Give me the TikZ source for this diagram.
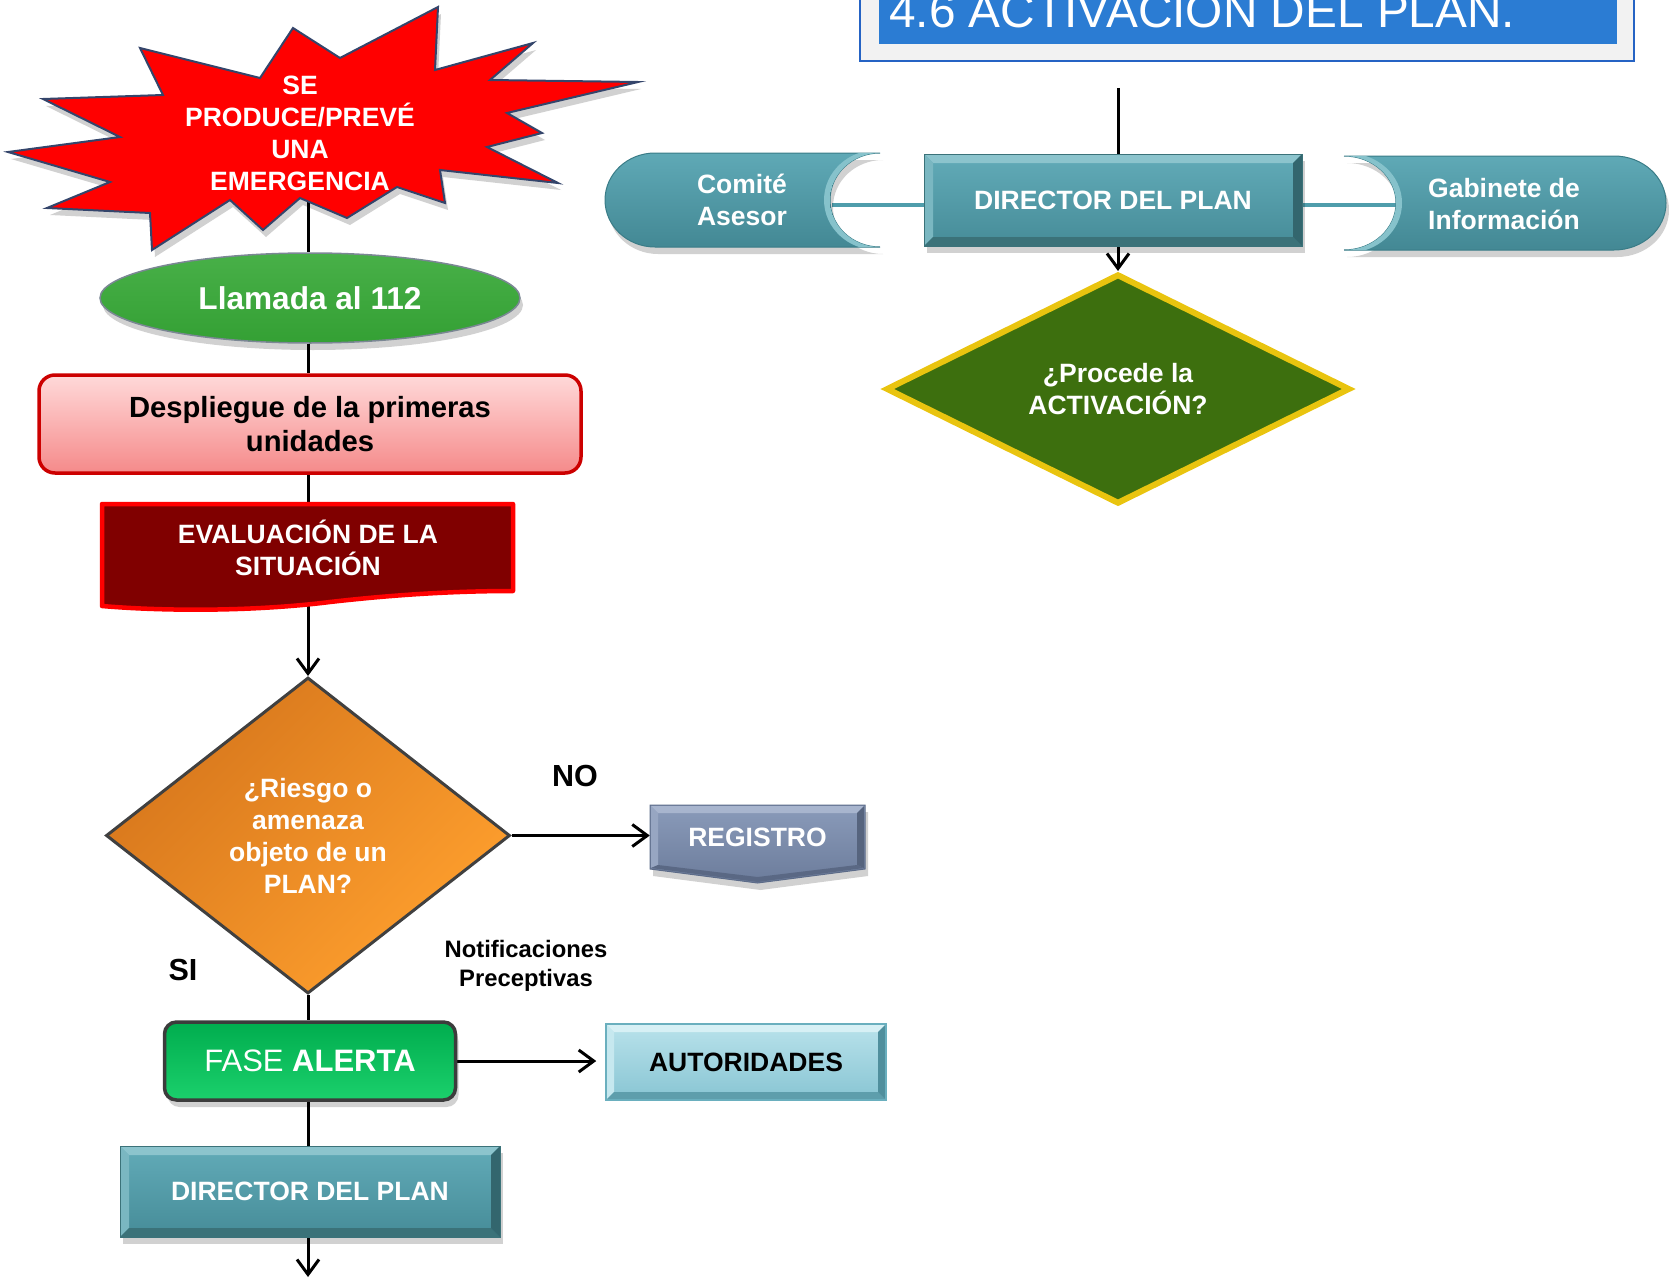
\documentclass[tikz,border=0pt]{standalone}
\usepackage{fontspec}
\setmainfont{Liberation Sans}
\usetikzlibrary{shapes.geometric,arrows.meta,shadows}
\newcommand{\myfs}[2]{\fontsize{#1pt}{#2pt}\selectfont}
\pgfdeclarelayer{bg}
\pgfsetlayers{bg,main}
\definecolor{tgray}{HTML}{F2F2F2}
\definecolor{tborder}{HTML}{2563C4}
\definecolor{tblue}{HTML}{2B7CD3}
\definecolor{tealF1}{HTML}{62ABB8}
\definecolor{tealF2}{HTML}{468C98}
\definecolor{tealT}{HTML}{8CC4CD}
\definecolor{tealL}{HTML}{7AB7C1}
\definecolor{tealB}{HTML}{3B7279}
\definecolor{tealR}{HTML}{33666E}
\definecolor{tealLine}{HTML}{4F9DAB}
\definecolor{tealHi}{HTML}{86C2CB}
\definecolor{comT}{HTML}{5FA9B6}
\definecolor{comB}{HTML}{438894}
\definecolor{comD}{HTML}{3A7C87}
\definecolor{autF1}{HTML}{B9E2EB}
\definecolor{autF2}{HTML}{88C5D3}
\definecolor{autT}{HTML}{D7F0F5}
\definecolor{autL}{HTML}{C6E8EF}
\definecolor{autB}{HTML}{5E9EAC}
\definecolor{autR}{HTML}{508F9D}
\definecolor{autD}{HTML}{6AAFBE}
\definecolor{regT}{HTML}{8A9BBA}
\definecolor{regB}{HTML}{6C7C9B}
\definecolor{regD}{HTML}{5C6B88}
\definecolor{regHi}{HTML}{A8B5CE}
\definecolor{regL}{HTML}{97A6C2}
\definecolor{regR}{HTML}{56647E}
\definecolor{regBot}{HTML}{5A6884}
\definecolor{starD}{HTML}{34456B}
\definecolor{llamT}{HTML}{48B048}
\definecolor{llamB}{HTML}{34A034}
\definecolor{llamD}{HTML}{7B8794}
\definecolor{despT}{HTML}{FFD9D9}
\definecolor{despB}{HTML}{F58A8A}
\definecolor{despD}{HTML}{CC0000}
\definecolor{evalF}{HTML}{800000}
\definecolor{evalD}{HTML}{FF0000}
\definecolor{orT}{HTML}{D6761C}
\definecolor{orB}{HTML}{FFA02E}
\definecolor{orD}{HTML}{404040}
\definecolor{faseT}{HTML}{00AD4E}
\definecolor{faseM}{HTML}{00B050}
\definecolor{faseB}{HTML}{1BD06C}
\definecolor{faseD}{HTML}{3C3C3C}
\definecolor{greenF}{HTML}{3D6F0E}
\definecolor{gold}{HTML}{E9C40F}
\begin{document}
\begin{tikzpicture}[x=1pt,y=-1pt,
  conn/.style={line width=3pt, black},
  arr/.style={conn, -{Straight Barb[length=15pt,width=22pt]}},
  tealline/.style={line width=4pt, tealLine},
  wtxt/.style={font=\bfseries\myfs{26.5}{32}, text=white, align=center, inner sep=0pt},
  btxt/.style={font=\bfseries\myfs{26.5}{32}, text=black, align=center, inner sep=0pt},
  lbl/.style={font=\bfseries\myfs{30.5}{36}, text=black, inner sep=0pt},
  shd/.style={drop shadow={shadow xshift=3pt, shadow yshift=-7pt, opacity=0.18, fill=black}},
  bevel/.style n args={5}{path picture={
    \path (path picture bounding box.north west) coordinate (pNW)
          (path picture bounding box.north east) coordinate (pNE)
          (path picture bounding box.south west) coordinate (pSW)
          (path picture bounding box.south east) coordinate (pSE);
    \fill[#2] (pNW) -- (pNE) -- ([xshift=-#1,yshift=-#1]pNE) -- ([xshift=#1,yshift=-#1]pNW) -- cycle;
    \fill[#3] (pNW) -- ([xshift=#1,yshift=-#1]pNW) -- ([xshift=#1,yshift=#1]pSW) -- (pSW) -- cycle;
    \fill[#4] (pSW) -- (pSE) -- ([xshift=-#1,yshift=#1]pSE) -- ([xshift=#1,yshift=#1]pSW) -- cycle;
    \fill[#5] (pNE) -- (pSE) -- ([xshift=-#1,yshift=#1]pSE) -- ([xshift=-#1,yshift=-#1]pNE) -- cycle;
  }}
]
\useasboundingbox (0,0) rectangle (1669,1279);
\clip (0,0) rectangle (1669,1279);

% ---------- title ----------
\fill[tgray] (860,-30) rectangle (1634,61);
\draw[tborder, line width=2.5pt] (860,-30) rectangle (1634,61);
\fill[tblue] (879,-30) rectangle (1617,44);
\node[anchor=base west, inner sep=0pt, text=white, font=\myfs{47.8}{56}] (title) at (889,28) {4.6 ACTIVACIÓN DEL PLAN.};

% ---------- top right group ----------
\node[rectangle, minimum width=378pt, minimum height=92pt, top color=tealF1, bottom color=tealF2,
      draw=tealB, line width=0.8pt, shd, bevel={9pt}{tealT}{tealL}{tealB}{tealR}, wtxt] (dir1) at (1113,200) {DIRECTOR DEL PLAN};

% Comite Asesor (stored data shape)
\path[shd, top color=comT, bottom color=comB, draw=comD, line width=1pt]
  (655,153) -- (880,153) .. controls (852.4,153) and (830,174) .. (830,200)
  .. controls (830,226) and (852.4,247) .. (880,247) -- (655,247)
  .. controls (627.4,247) and (605,226) .. (605,200)
  .. controls (605,174) and (627.4,153) .. (655,153) -- cycle;
\begin{scope}
\clip (655,153) -- (880,153) .. controls (852.4,153) and (830,174) .. (830,200)
  .. controls (830,226) and (852.4,247) .. (880,247) -- (655,247)
  .. controls (627.4,247) and (605,226) .. (605,200)
  .. controls (605,174) and (627.4,153) .. (655,153) -- cycle;
\draw[tealHi, line width=6pt] (877,153) .. controls (849.4,153) and (827,174) .. (827,200)
  .. controls (827,226) and (849.4,247) .. (877,247);
\end{scope}
\node[wtxt] (com) at (742,200) {Comité\\Asesor};

% Gabinete de Informacion
\path[shd, top color=comT, bottom color=comB, draw=comD, line width=1pt]
  (1344,156) -- (1614,156) .. controls (1642.7,156) and (1666,177) .. (1666,203)
  .. controls (1666,229) and (1642.7,250) .. (1614,250) -- (1344,250)
  .. controls (1372.7,250) and (1396,229) .. (1396,203)
  .. controls (1396,177) and (1372.7,156) .. (1344,156) -- cycle;
\begin{scope}
\clip (1344,156) -- (1614,156) .. controls (1642.7,156) and (1666,177) .. (1666,203)
  .. controls (1666,229) and (1642.7,250) .. (1614,250) -- (1344,250)
  .. controls (1372.7,250) and (1396,229) .. (1396,203)
  .. controls (1396,177) and (1372.7,156) .. (1344,156) -- cycle;
\draw[tealHi, line width=6pt] (1347,156) .. controls (1375.7,156) and (1399,177) .. (1399,203)
  .. controls (1399,229) and (1375.7,250) .. (1347,250);
\end{scope}
\node[wtxt] (gab) at (1504,204) {Gabinete de\\Información};

\node[diamond, aspect=2, minimum width=464pt, minimum height=230pt, inner sep=0pt,
      fill=greenF, draw=gold, line width=6pt, wtxt] (dia1) at (1118,389) {¿Procede la\\ACTIVACIÓN?};

\coordinate (tstart) at (1118,88);
\coordinate (comR) at (832,205);
\coordinate (gabL) at (1396,205);

% ---------- left column ----------
\path[shd, fill=red, draw=starD, line width=2pt]
  (438,7) -- (435,70) -- (533,43) -- (490,80) -- (638,82) -- (507,113) -- (542,133)
  -- (487,147) -- (558,183) -- (440,170) -- (445,203) -- (397,187) -- (347,218)
  -- (300,198) -- (263,230) -- (230,200) -- (152,250) -- (150,213) -- (47,208)
  -- (110,182) -- (8,152) -- (120,137) -- (43,99) -- (163,95) -- (140,48)
  -- (260,78) -- (293,28) -- (340,58) -- cycle;
\node[wtxt] (star) at (300,133) {SE\\PRODUCE/PREVÉ\\UNA\\EMERGENCIA};
\coordinate (starB) at (308,200);

\node[ellipse, minimum width=420pt, minimum height=90pt, inner sep=0pt, top color=llamT, bottom color=llamB,
      draw=llamD, line width=1.5pt, shd, font=\bfseries\myfs{31.6}{38}, text=white] (llam) at (310,298) {Llamada al 112};

\node[rectangle, rounded corners=16pt, minimum width=542pt, minimum height=98pt, inner sep=0pt,
      top color=despT, bottom color=despB, draw=despD, line width=3.5pt,
      font=\bfseries\myfs{29.2}{34}, text=black, align=center] (desp) at (310,424) {Despliegue de la primeras\\unidades};

\path[fill=evalF, draw=evalD, line width=4.5pt, line join=round]
  (102,504) -- (513,504) -- (513,591) .. controls (460,591) and (400,594) .. (330,602)
  .. controls (250,612) and (160,611) .. (102,606) -- cycle;
\node[wtxt, minimum width=411pt, minimum height=87pt] (eval) at (308,547.5) {EVALUACIÓN DE LA\\SITUACIÓN};

\node[diamond, aspect=1.28, minimum width=404pt, minimum height=316pt, inner sep=0pt,
      top color=orT, bottom color=orB, shading angle=45, draw=orD, line width=3pt, wtxt] (dia2) at (308,835.5)
      {¿Riesgo o\\amenaza\\objeto de un\\PLAN?};

\path[shd, top color=regT, bottom color=regB, draw=regD, line width=1pt]
  (650,805) -- (865,805) -- (865,869) -- (757.5,883) -- (650,869) -- cycle;
\fill[regHi] (651,806) -- (864,806) -- (857,813) -- (658,813) -- cycle;
\fill[regL] (651,806) -- (658,813) -- (658,865) -- (651,868) -- cycle;
\fill[regR] (864,806) -- (864,868) -- (857,865) -- (857,813) -- cycle;
\fill[regBot] (651,868) -- (658,865) -- (757.5,877) -- (857,865) -- (864,868) -- (757.5,882) -- cycle;
\node[wtxt, minimum width=215pt, minimum height=64pt] (reg) at (757.5,837) {REGISTRO};

\node[lbl] (no) at (575,776) {NO};
\node[lbl] (si) at (183,970) {SI};
\node[font=\bfseries\myfs{23.8}{29}, align=center, inner sep=0pt] (notif) at (526,966) {Notificaciones\\Preceptivas};

\node[rectangle, rounded corners=12pt, minimum width=291pt, minimum height=78pt, inner sep=0pt,
      top color=faseT, middle color=faseM, bottom color=faseB, draw=faseD, line width=3.5pt, shd,
      font=\myfs{31}{36}, text=white] (fase) at (310,1061) {FASE \textbf{ALERTA}};

\node[rectangle, minimum width=280pt, minimum height=76pt, top color=autF1, bottom color=autF2,
      draw=autD, line width=1.5pt, bevel={8pt}{autT}{autL}{autB}{autR}, btxt] (aut) at (746,1062) {AUTORIDADES};

\node[rectangle, minimum width=380pt, minimum height=91pt, top color=tealF1, bottom color=tealF2,
      draw=tealB, line width=0.8pt, shd, bevel={9pt}{tealT}{tealL}{tealB}{tealR}, wtxt] (dir2) at (310,1191.5) {DIRECTOR DEL PLAN};

\coordinate (spine) at (308,0);
\coordinate (endB) at (308,1277);

% ---------- connectors ----------
\begin{pgfonlayer}{bg}
\draw[conn] (tstart) -- (tstart |- dir1.north);
\draw[arr] (dir1.south -| dia1.north) -- (dia1.north);
\draw[tealline] (comR) -- (comR -| dir1.west);
\draw[tealline] (dir1.east |- gabL) -- (gabL);
\draw[conn] (starB) -- (starB |- llam.north);
\draw[conn] (llam.south -| spine) -- (desp.north -| spine);
\draw[conn] (desp.south -| spine) -- (eval.north);
\draw[arr] (eval.south) -- (dia2.north);
\draw[arr] (dia2.east) -- (dia2.east -| reg.west);
\draw[conn] (dia2.south) -- (fase.north -| spine);
\draw[arr, shorten >=9pt] (fase.east) -- (fase.east -| aut.west);
\draw[conn] (fase.south -| spine) -- (dir2.north -| spine);
\draw[arr] (dir2.south -| spine) -- (endB);
\end{pgfonlayer}
\end{tikzpicture}
\end{document}
